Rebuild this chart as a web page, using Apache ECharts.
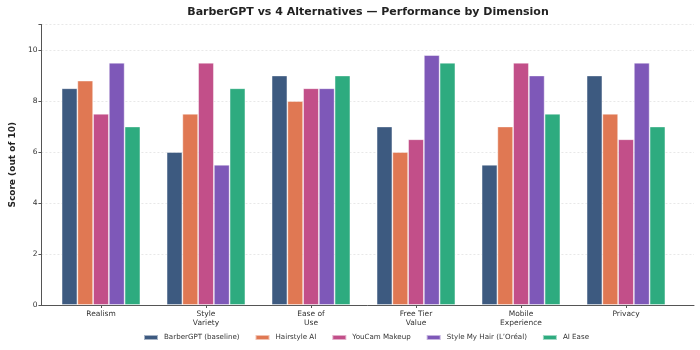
<!DOCTYPE html>
<html>
<head>
<meta charset="utf-8">
<script src="https://cdn.jsdelivr.net/npm/echarts@6/dist/echarts.min.js"></script>
<style>
  html, body { margin: 0; padding: 0; background: #fff; }
  #chart { width: 700px; height: 350px; }
</style>
</head>
<body>
<div id="chart"></div>
<script>
// dimensions along x
const dimensions = ['Realism', 'Style\nVariety', 'Ease of\nUse', 'Free Tier\nValue', 'Mobile\nExperience', 'Privacy']

// scores per app, same order as dimensions
const barberGPT = [8.5, 6.0, 9.0, 7.0, 5.5, 9.0]
const hairstyleAI = [8.8, 7.5, 8.0, 6.0, 7.0, 7.5]
const youCam = [7.5, 9.5, 8.5, 6.5, 9.5, 6.5]
const styleMyHair = [9.5, 5.5, 8.5, 9.8, 9.0, 9.5]
const aiEase = [7.0, 8.5, 9.0, 9.5, 7.5, 7.0]

const yTicks = [0, 2, 4, 6, 8, 10]

const seriesList = [
  { name: 'BarberGPT (baseline)', data: barberGPT, color: '#3d5a80' },
  { name: 'Hairstyle AI', data: hairstyleAI, color: '#e07853' },
  { name: 'YouCam Makeup', data: youCam, color: '#c24f89' },
  { name: 'Style My Hair (L\u2019Or\u00e9al)', data: styleMyHair, color: '#7e58b8' },
  { name: 'AI Ease', data: aiEase, color: '#2eab7f' }
]

const font = 'DejaVu Sans'
const myChart = echarts.init(document.getElementById('chart'))

const option = {
  backgroundColor: '#fff',
  animation: false,
  textStyle: { fontFamily: font },
  title: {
    text: 'BarberGPT vs 4 Alternatives \u2014 Performance by Dimension',
    left: 363,
    top: 2,
    textAlign: 'center',
    textStyle: { fontFamily: font, fontSize: 11, fontWeight: 'bold', color: '#222' }
  },
  legend: {
    left: 143,
    top: 334,
    padding: 0,
    itemWidth: 14,
    itemHeight: 5,
    itemGap: 15,
    icon: 'rect',
    textStyle: { fontFamily: font, fontSize: 7.1, color: '#333', padding: [0, 0, 0, 1] },
    data: seriesList.map(s => s.name)
  },
  grid: [
    // outer frame: spines and gridlines
    { left: 32.7, right: 6, top: 24.5, bottom: 45 },
    // inner: bars on category bands
    { left: 48.5, right: 21.5, top: 24.5, bottom: 45 }
  ],
  xAxis: [
    {
      gridIndex: 0,
      type: 'value',
      min: -0.65,
      max: 5.65,
      axisLine: { show: true, onZero: false, lineStyle: { color: '#555', width: 1 } },
      axisTick: { show: false },
      axisLabel: { show: false },
      splitLine: { show: false }
    },
    {
      gridIndex: 1,
      type: 'category',
      data: dimensions,
      axisLine: { show: false },
      axisTick: { show: true, alignWithLabel: true, length: 3, lineStyle: { color: '#555' } },
      axisLabel: { fontFamily: font, fontSize: 7.5, color: '#333', lineHeight: 9, margin: 5 }
    }
  ],
  yAxis: [
    {
      gridIndex: 0,
      type: 'value',
      min: 0,
      max: 11,
      interval: 2,
      name: 'Score (out of 10)',
      nameLocation: 'middle',
      nameGap: 21,
      nameTextStyle: { fontFamily: font, fontSize: 9, fontWeight: 'bold', color: '#222' },
      axisLine: { show: true, onZero: false, lineStyle: { color: '#555', width: 1 } },
      axisTick: { show: true, length: 3, lineStyle: { color: '#555' } },
      axisLabel: {
        fontFamily: font, fontSize: 7.5, color: '#333', margin: 4,
        formatter: v => (yTicks.indexOf(v) >= 0 ? String(v) : '')
      },
      splitLine: { show: true, lineStyle: { color: '#e2e2e2', type: [2, 2], width: 0.8 } }
    },
    {
      gridIndex: 1,
      type: 'value',
      min: 0,
      max: 11,
      show: false,
      splitLine: { show: false }
    }
  ],
  series: seriesList.map(s => ({
    name: s.name,
    type: 'bar',
    xAxisIndex: 1,
    yAxisIndex: 1,
    barWidth: 15.75,
    barGap: '0%',
    data: s.data,
    itemStyle: {
      color: s.color,
      borderColor: 'rgba(255,255,255,0.55)',
      borderWidth: 0.8
    }
  }))
}

myChart.setOption(option)
</script>
</body>
</html>
